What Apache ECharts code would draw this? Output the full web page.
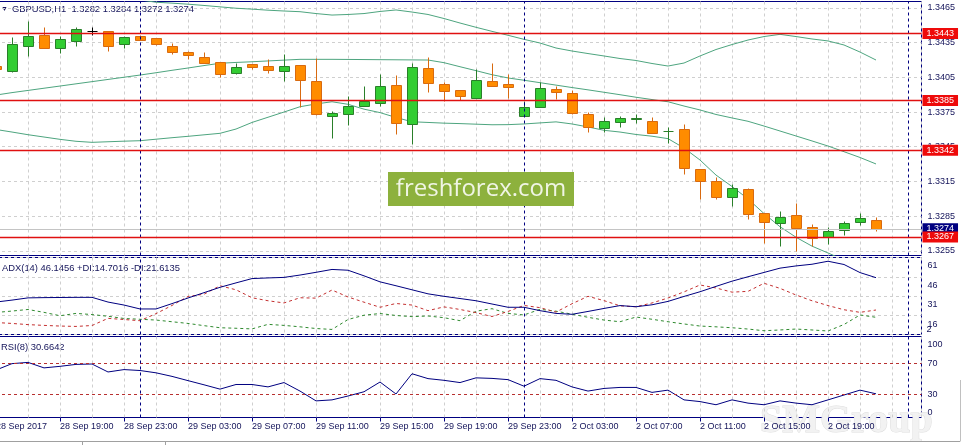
<!DOCTYPE html>
<html><head><meta charset="utf-8">
<script src="https://cdn.jsdelivr.net/npm/echarts@6.0.0/dist/echarts.min.js"></script>
<style>html,body{margin:0;padding:0;background:#fff}#c{width:969px;height:445px}</style>
</head><body><div id="c"></div>
<script>
// ---------------- data ----------------
const symbol = 'GBPUSD,H1';
const times = [
 '28 Sep 15:00','28 Sep 16:00','28 Sep 17:00','28 Sep 18:00','28 Sep 19:00','28 Sep 20:00','28 Sep 21:00','28 Sep 22:00','28 Sep 23:00',
 '29 Sep 00:00','29 Sep 01:00','29 Sep 02:00','29 Sep 03:00','29 Sep 04:00','29 Sep 05:00','29 Sep 06:00','29 Sep 07:00','29 Sep 08:00','29 Sep 09:00','29 Sep 10:00','29 Sep 11:00','29 Sep 12:00',
 '29 Sep 13:00','29 Sep 14:00','29 Sep 15:00','29 Sep 16:00','29 Sep 17:00','29 Sep 18:00','29 Sep 19:00','29 Sep 20:00','29 Sep 21:00','29 Sep 22:00','29 Sep 23:00',
 '2 Oct 00:00','2 Oct 01:00','2 Oct 02:00','2 Oct 03:00','2 Oct 04:00','2 Oct 05:00','2 Oct 06:00','2 Oct 07:00','2 Oct 08:00','2 Oct 09:00','2 Oct 10:00','2 Oct 11:00',
 '2 Oct 12:00','2 Oct 13:00','2 Oct 14:00','2 Oct 15:00','2 Oct 16:00','2 Oct 17:00','2 Oct 18:00','2 Oct 19:00','2 Oct 20:00','2 Oct 21:00','2 Oct 22:00'];
const open  = [1.34151,1.34108,1.34324,1.34419,1.34301,1.34367,1.34451,1.34451,1.34336,1.34408,
 1.34388,1.34324,1.34269,1.34224,1.34180,1.34085,1.34163,1.34148,1.34102,1.34154,
 1.34019,1.33718,1.33730,1.33805,1.33826,1.33981,1.33644,1.34128,1.33990,1.33938,
 1.33874,1.34019,1.33990,1.33718,1.33796,1.33947,1.33912,1.33730,1.33609,1.33664,
 1.33694,1.33675,1.33582,1.33601,1.33257,1.33154,1.33013,1.33082,1.32874,1.32788,
 1.32857,1.32753,1.32667,1.32730,1.32796,1.32820];
const high  = [1.34170,1.34402,1.34540,1.34488,1.34408,1.34483,1.34488,1.34455,1.34408,1.34416,
 1.34392,1.34345,1.34275,1.34269,1.34185,1.34172,1.34166,1.34206,1.34252,1.34158,
 1.34215,1.33759,1.33889,1.33975,1.34079,1.34070,1.34177,1.34224,1.34012,1.33942,
 1.34122,1.34172,1.34079,1.33848,1.34012,1.33975,1.33941,1.33753,1.33705,1.33716,
 1.33733,1.33710,1.33623,1.33647,1.33260,1.33191,1.33128,1.33091,1.32877,1.32897,
 1.32961,1.32779,1.32758,1.32808,1.32874,1.32840];
const low   = [1.34100,1.34099,1.34237,1.34301,1.34258,1.34324,1.34414,1.34281,1.34307,1.34370,
 1.34330,1.34255,1.34206,1.34172,1.34056,1.34077,1.34120,1.34085,1.34021,1.33796,
 1.33725,1.33523,1.33641,1.33802,1.33802,1.33560,1.33474,1.33926,1.33848,1.33854,
 1.33870,1.33975,1.33874,1.33713,1.33793,1.33863,1.33735,1.33575,1.33575,1.33618,
 1.33653,1.33567,1.33480,1.33214,1.32998,1.32998,1.32940,1.32827,1.32620,1.32594,
 1.32551,1.32594,1.32606,1.32686,1.32773,1.32720];
const close = [1.34122,1.34336,1.34408,1.34307,1.34379,1.34466,1.34451,1.34324,1.34399,1.34376,
 1.34336,1.34272,1.34241,1.34172,1.34077,1.34142,1.34137,1.34111,1.34148,1.34025,
 1.33730,1.33739,1.33802,1.33848,1.33975,1.33653,1.34137,1.33999,1.33929,1.33886,
 1.34025,1.33978,1.33969,1.33791,1.33955,1.33921,1.33739,1.33618,1.33670,1.33696,
 1.33699,1.33571,1.33586,1.33263,1.33156,1.33018,1.33090,1.32866,1.32796,1.32845,
 1.32744,1.32658,1.32721,1.32788,1.32831,1.32740];
const bbUpper = [1.34820,1.34810,1.34800,1.34790,1.34780,1.34770,1.34760,1.34750,1.34740,1.34720,
 1.34700,1.34692,1.34683,1.34672,1.34660,1.34648,1.34640,1.34631,1.34624,1.34618,
 1.34602,1.34589,1.34594,1.34602,1.34620,1.34633,1.34615,1.34594,1.34559,1.34520,
 1.34483,1.34448,1.34414,1.34379,1.34347,1.34304,1.34278,1.34256,1.34235,1.34213,
 1.34196,1.34170,1.34148,1.34174,1.34235,1.34291,1.34334,1.34373,1.34403,1.34422,
 1.34403,1.34382,1.34365,1.34330,1.34269,1.34200];
const bbMiddle = [1.33897,1.33918,1.33937,1.33956,1.33975,1.33994,1.34013,1.34032,1.34051,1.34070,
 1.34090,1.34111,1.34131,1.34152,1.34172,1.34179,1.34185,1.34192,1.34199,1.34206,
 1.34206,1.34206,1.34205,1.34204,1.34203,1.34202,1.34201,1.34200,1.34177,1.34142,
 1.34108,1.34073,1.34045,1.34025,1.34004,1.33983,1.33962,1.33942,1.33921,1.33900,
 1.33878,1.33858,1.33839,1.33802,1.33768,1.33729,1.33699,1.33670,1.33629,1.33586,
 1.33543,1.33500,1.33456,1.33407,1.33357,1.33301];
const bbLower = [1.33599,1.33577,1.33554,1.33534,1.33514,1.33497,1.33488,1.33493,1.33498,1.33502,
 1.33515,1.33528,1.33540,1.33553,1.33566,1.33603,1.33660,1.33705,1.33750,1.33796,
 1.33820,1.33839,1.33817,1.33775,1.33745,1.33703,1.33666,1.33660,1.33654,1.33650,
 1.33645,1.33640,1.33641,1.33647,1.33656,1.33665,1.33647,1.33621,1.33592,1.33577,
 1.33556,1.33541,1.33520,1.33439,1.33335,1.33205,1.33106,1.32998,1.32872,1.32758,
 1.32667,1.32590,1.32531,1.32470,1.32427,1.32392];
const adx = [33.2,34.7,36.4,36.6,36.7,36.8,36.8,33.2,30.9,27.9,
 27.9,32.0,36.3,40.4,44.5,47.9,51.2,51.7,52.1,53.9,
 56.0,58.2,57.6,53.3,48.7,45.7,42.6,39.5,37.6,35.9,
 34.2,31.7,29.2,29.2,26.6,24.5,23.8,26.0,28.3,30.5,
 29.6,31.1,33.7,37.5,41.1,45.2,49.2,52.6,55.9,59.2,
 60.9,62.2,64.5,62.0,55.8,51.9];
const plusDI = [25.2,26.3,27.5,25.3,22.7,24.5,23.6,22.3,20.6,20.0,
 19.4,18.1,16.8,15.1,13.5,13.1,12.6,16.1,15.3,14.2,
 12.9,12.2,19.8,23.1,24.4,22.9,22.0,22.5,21.2,18.9,
 26.2,28.1,24.5,23.3,27.6,26.2,23.9,21.5,19.4,18.1,
 21.7,20.0,18.1,16.4,14.8,14.2,13.5,12.5,11.2,11.8,
 12.5,11.8,11.0,16.0,23.3,21.5];
const minusDI = [17.5,16.8,15.9,15.3,14.8,14.5,15.2,20.7,19.8,18.9,
 24.3,30.6,37.5,39.2,45.7,42.6,36.5,34.2,32.5,36.5,
 36.2,42.4,37.1,33.1,29.2,32.1,30.9,26.6,29.5,27.5,
 25.1,22.1,26.0,30.6,28.9,25.5,31.9,37.6,34.3,30.3,
 29.6,32.5,36.3,41.0,46.3,44.0,40.8,41.4,47.6,43.7,
 38.6,34.2,30.5,27.3,25.3,27.1];
const rsi = [61.4,69.7,71.3,64.2,66.2,68.7,69.2,58.9,62.0,60.8,
 57.8,53.2,47.7,42.3,36.7,42.7,42.7,39.6,45.2,34.2,
 21.5,22.8,27.8,33.3,45.9,30.4,56.6,50.3,48.1,45.2,
 51.3,50.6,49.0,40.5,50.3,48.1,39.6,34.2,37.6,38.9,
 38.9,32.5,35.4,22.8,20.6,16.5,22.8,18.6,16.5,21.5,
 18.6,16.5,22.8,29.1,35.4,30.66];
const levels = [1.3443, 1.3385, 1.3342, 1.3267];
const bidPrice = 1.3274;
const priceTicks = [1.3255, 1.3285, 1.3315, 1.3345, 1.3375, 1.3405, 1.3435, 1.3465];
const adxTickValues = [16, 31, 46, 61];
const adxMinLabel = { value: 12, text: '2' };
const rsiTickValues = [0, 30, 70, 100];
const rsiLevels = [70, 30];
const timeTickIdx = [0, 4, 8, 12, 16, 20, 24, 28, 32, 36, 40, 44, 48, 52];
const timeTickText = ['28 Sep 2017', '28 Sep 19:00', '28 Sep 23:00', '29 Sep 03:00', '29 Sep 07:00', '29 Sep 11:00',
  '29 Sep 15:00', '29 Sep 19:00', '29 Sep 23:00', '2 Oct 03:00', '2 Oct 07:00', '2 Oct 11:00', '2 Oct 15:00', '2 Oct 19:00'];
const separatorIdx = [9, 33, 57];
const adxHeader = ['46.1456', '14.7016', '21.6135'];
const rsiHeader = '30.6642';

// ---------------- styles ----------------
const FONT = '"Liberation Sans", Arial, sans-serif';
const FS = 9;
const TXT = '#14145a';
const NAVY = '#000080';
const GRID = '#cfcfcf';
const LEVEL = '#e01010';
const BULL_FILL = '#32cd32', BULL_EDGE = '#2a7f2a';
const BEAR_FILL = '#ff8c00', BEAR_EDGE = '#d86a10';
const BB = '#4ea57f';
const XMAX = 925.5 / 16;
const PMIN = 1.3465 - 247.5 * 0.0000865, PMAX = 1.3465 + 6.5 * 0.0000865;
const AMIN = 61 - 68.7 / 1.304, AMAX = 61 + 8.3 / 1.304;
const RMAX = 104.8;

const idx = times.map((t, i) => i);
const pairs = arr => arr.map((v, i) => [i, v]);

function renderCandle(params, api) {
  const i = api.value(0), o = api.value(1), c = api.value(2), l = api.value(3), h = api.value(4);
  const po = api.coord([i, o]), pc = api.coord([i, c]), pl = api.coord([i, l]), ph = api.coord([i, h]);
  const cx = Math.round(po[0]);
  const xw = cx + 0.5;
  let stroke, fill;
  if (c > o) { stroke = BULL_EDGE; fill = BULL_FILL; }
  else if (c < o) { stroke = BEAR_EDGE; fill = BEAR_FILL; }
  else { stroke = '#000'; fill = '#000'; }
  const top = Math.round(Math.min(po[1], pc[1])), bot = Math.round(Math.max(po[1], pc[1]));
  const children = [{ type: 'line', shape: { x1: xw, y1: Math.round(ph[1]) + 0.5, x2: xw, y2: Math.round(pl[1]) + 0.5 }, style: { stroke, lineWidth: 1 } }];
  if (bot - top >= 1) children.push({ type: 'rect', shape: { x: cx - 4.5, y: top + 0.5, width: 10, height: bot - top }, style: { fill, stroke, lineWidth: 1 } });
  else children.push({ type: 'line', shape: { x1: cx - 4.5, y1: top + 0.5, x2: cx + 5.5, y2: top + 0.5 }, style: { stroke, lineWidth: 1 } });
  return { type: 'group', children };
}

const gridStyle = { show: true, borderColor: NAVY, borderWidth: 1, backgroundColor: '#fff', containLabel: false, outerBoundsMode: 'none' };
const xBase = gi => ({
  type: 'value', gridIndex: gi, min: 0, max: XMAX, interval: 2,
  axisLine: { show: false }, axisTick: { show: false }, axisLabel: { show: false },
  splitLine: { show: true, lineStyle: { color: GRID, type: [3, 3], width: 1 } }
});
const axisLbl = { color: TXT, fontFamily: FONT, fontSize: FS, hideOverlap: false };
const sepLine = {
  silent: true, symbol: 'none', precision: 5, label: { show: false },
  lineStyle: { color: NAVY, type: [3, 3], width: 1 },
  data: separatorIdx.map(v => ({ xAxis: v }))
};
const boxLabel = bg => ({ show: true, position: 'end', distance: 1, formatter: p => p.value.toFixed(4), color: '#fff',
  backgroundColor: bg, padding: [1, 4, 0, 4], fontFamily: FONT, fontSize: FS, lineHeight: 10 });

const option = {
  animation: false,
  backgroundColor: '#fff',
  textStyle: { fontFamily: FONT },
  grid: [
    Object.assign({ left: -4, right: 47.5, top: 1.5, height: 254 }, gridStyle),
    Object.assign({ left: -4, right: 47.5, top: 257.5, height: 77 }, gridStyle),
    Object.assign({ left: -4, right: 47.5, top: 336.5, height: 81 }, gridStyle)
  ],
  xAxis: [xBase(0), xBase(1), xBase(2), {
    type: 'value', gridIndex: 2, min: 0, max: XMAX, position: 'bottom',
    axisLine: { show: false }, splitLine: { show: false },
    axisTick: { show: true, customValues: timeTickIdx, length: 4, lineStyle: { color: NAVY } },
    axisLabel: Object.assign({ customValues: timeTickIdx, align: 'left', margin: 5,
      formatter: v => { const k = timeTickIdx.indexOf(Math.round(v)); return k >= 0 ? timeTickText[k] : ''; } }, axisLbl)
  }],
  yAxis: [
    { type: 'value', gridIndex: 0, position: 'right', min: PMIN, max: PMAX,
      axisLine: { show: true, lineStyle: { color: NAVY } },
      axisTick: { show: true, customValues: priceTicks, length: 3, lineStyle: { color: NAVY } },
      axisLabel: Object.assign({ customValues: priceTicks, margin: 6, formatter: v => v.toFixed(4) }, axisLbl),
      splitLine: { show: true, lineStyle: { color: GRID, type: [3, 3] } } },
    { type: 'value', gridIndex: 1, position: 'right', min: AMIN, max: AMAX,
      axisLine: { show: true, lineStyle: { color: NAVY } },
      axisTick: { show: true, customValues: adxTickValues, length: 3, lineStyle: { color: NAVY } },
      axisLabel: Object.assign({ customValues: adxTickValues, margin: 6, formatter: v => String(v) }, axisLbl),
      splitLine: { show: false } },
    { type: 'value', gridIndex: 1, position: 'left', min: 0, max: 4, interval: 1,
      axisLine: { show: false }, axisTick: { show: false }, axisLabel: { show: false },
      splitLine: { show: true, lineStyle: { color: GRID, type: [3, 3] } } },
    { type: 'value', gridIndex: 2, position: 'right', min: 0, max: RMAX,
      axisLine: { show: true, lineStyle: { color: NAVY } },
      axisTick: { show: true, customValues: rsiTickValues, length: 3, lineStyle: { color: NAVY } },
      axisLabel: Object.assign({ customValues: rsiTickValues, margin: 6,
        formatter: v => v === 100 ? '{t|100}' : (v === 0 ? '{b|0}' : String(v)),
        rich: { t: { padding: [8, 0, 0, 0], color: TXT, fontFamily: FONT, fontSize: FS },
                b: { padding: [0, 0, 10, 0], color: TXT, fontFamily: FONT, fontSize: FS } } }, axisLbl),
      splitLine: { show: false } },
    { type: 'value', gridIndex: 1, position: 'right', offset: 0, min: AMIN, max: AMAX,
      axisLine: { show: false }, axisTick: { show: false }, splitLine: { show: false },
      axisLabel: Object.assign({ customValues: [adxMinLabel.value], margin: 5, formatter: () => adxMinLabel.text }, axisLbl) }
  ],
  series: [
    { type: 'line', name: 'bid', xAxisIndex: 0, yAxisIndex: 0, data: [], z: 1,
      markLine: { silent: true, symbol: 'none', precision: 5, lineStyle: { color: '#c4c4c4', type: 'solid', width: 1 },
        label: boxLabel(NAVY), data: [{ yAxis: bidPrice }] } },
    { type: 'line', name: 'BB upper', xAxisIndex: 0, yAxisIndex: 0, data: pairs(bbUpper), showSymbol: false,
      lineStyle: { color: BB, width: 1 }, z: 2, markLine: sepLine },
    { type: 'line', name: 'BB middle', xAxisIndex: 0, yAxisIndex: 0, data: pairs(bbMiddle), showSymbol: false,
      lineStyle: { color: BB, width: 1 }, z: 2 },
    { type: 'line', name: 'BB lower', xAxisIndex: 0, yAxisIndex: 0, data: pairs(bbLower), showSymbol: false,
      lineStyle: { color: BB, width: 1 }, z: 2 },
    { type: 'custom', name: 'candles', xAxisIndex: 0, yAxisIndex: 0, renderItem: renderCandle, z: 3,
      encode: { x: 0, y: [1, 2, 3, 4] },
      data: idx.map(i => [i, open[i], close[i], low[i], high[i]]) },
    { type: 'line', name: 'levels', xAxisIndex: 0, yAxisIndex: 0, data: [], z: 4,
      markLine: { silent: true, symbol: 'none', precision: 5, emphasis: { disabled: true },
        lineStyle: { color: LEVEL, type: 'solid', width: 1.4 },
        label: boxLabel('#ee0a0a'),
        data: levels.map(v => ({ yAxis: v })) } },
    { type: 'line', name: 'ADX', xAxisIndex: 1, yAxisIndex: 1, data: pairs(adx), showSymbol: false,
      lineStyle: { color: NAVY, width: 1 }, z: 3, markLine: sepLine },
    { type: 'line', name: '+DI', xAxisIndex: 1, yAxisIndex: 1, data: pairs(plusDI), showSymbol: false,
      lineStyle: { color: '#2f8a2f', width: 1, type: [3, 3] }, z: 2 },
    { type: 'line', name: '-DI', xAxisIndex: 1, yAxisIndex: 1, data: pairs(minusDI), showSymbol: false,
      lineStyle: { color: '#c43030', width: 1, type: [3, 3] }, z: 2 },
    { type: 'line', name: 'RSI', xAxisIndex: 2, yAxisIndex: 3, data: pairs(rsi), showSymbol: false,
      lineStyle: { color: NAVY, width: 1 }, z: 3,
      markLine: { silent: true, symbol: 'none', precision: 5, label: { show: false },
        lineStyle: { color: '#b83030', type: [3, 3], width: 1 },
        data: rsiLevels.map(v => ({ yAxis: v })).concat(separatorIdx.map(v => ({ xAxis: v, lineStyle: { color: NAVY, type: [3, 3] } }))) } }
  ],
  graphic: [
    { type: 'text', x: 1, y: 9, style: { text: '\u25BC', fontSize: 7, fill: TXT, verticalAlign: 'middle' } },
    { type: 'text', x: 12, y: 9, style: { text: symbol + '  ' + [open[55], high[55], low[55], close[55]].map(v => v.toFixed(4)).join(' '),
        font: '9.4px ' + FONT, fill: TXT, verticalAlign: 'middle' } },
    { type: 'text', x: 2, y: 268, style: { text: 'ADX(14) ' + adxHeader[0] + ' +DI:' + adxHeader[1] + ' -DI:' + adxHeader[2],
        font: '9.4px ' + FONT, fill: TXT, verticalAlign: 'middle' } },
    { type: 'text', x: 1, y: 347, style: { text: 'RSI(8) ' + rsiHeader, font: '9.4px ' + FONT, fill: TXT, verticalAlign: 'middle' } },
    { type: 'rect', shape: { x: 388, y: 172, width: 186, height: 34 }, style: { fill: '#8db13d' }, z: 50 },
    { type: 'text', x: 481, y: 189, z: 51, style: { text: 'freshforex.com', font: '24px "Open Sans", "Noto Sans", sans-serif',
        fill: '#f0f5e4', align: 'center', verticalAlign: 'middle' } },
    { type: 'text', x: 760, y: 422, z: 0, style: { text: 'SMGroup', font: 'bold 40px "Liberation Serif", serif',
        fill: '#f2f2f2', stroke: '#dedede', lineWidth: 1, verticalAlign: 'middle' } },
    { type: 'line', shape: { x1: 0, y1: 441.5, x2: 960, y2: 441.5 }, style: { stroke: '#a0a0a0', lineWidth: 1 } },
    { type: 'line', shape: { x1: 960.5, y1: 380, x2: 960.5, y2: 441.5 }, style: { stroke: '#c0c0c0', lineWidth: 1 } },
    { type: 'line', shape: { x1: 82.5, y1: 441.5, x2: 82.5, y2: 445 }, style: { stroke: '#a0a0a0', lineWidth: 1 } },
    { type: 'line', shape: { x1: 165.5, y1: 441.5, x2: 165.5, y2: 445 }, style: { stroke: '#a0a0a0', lineWidth: 1 } }
  ]
};

const chart = echarts.init(document.getElementById('c'), null, { renderer: 'canvas' });
chart.setOption(option);
</script>
</body></html>
